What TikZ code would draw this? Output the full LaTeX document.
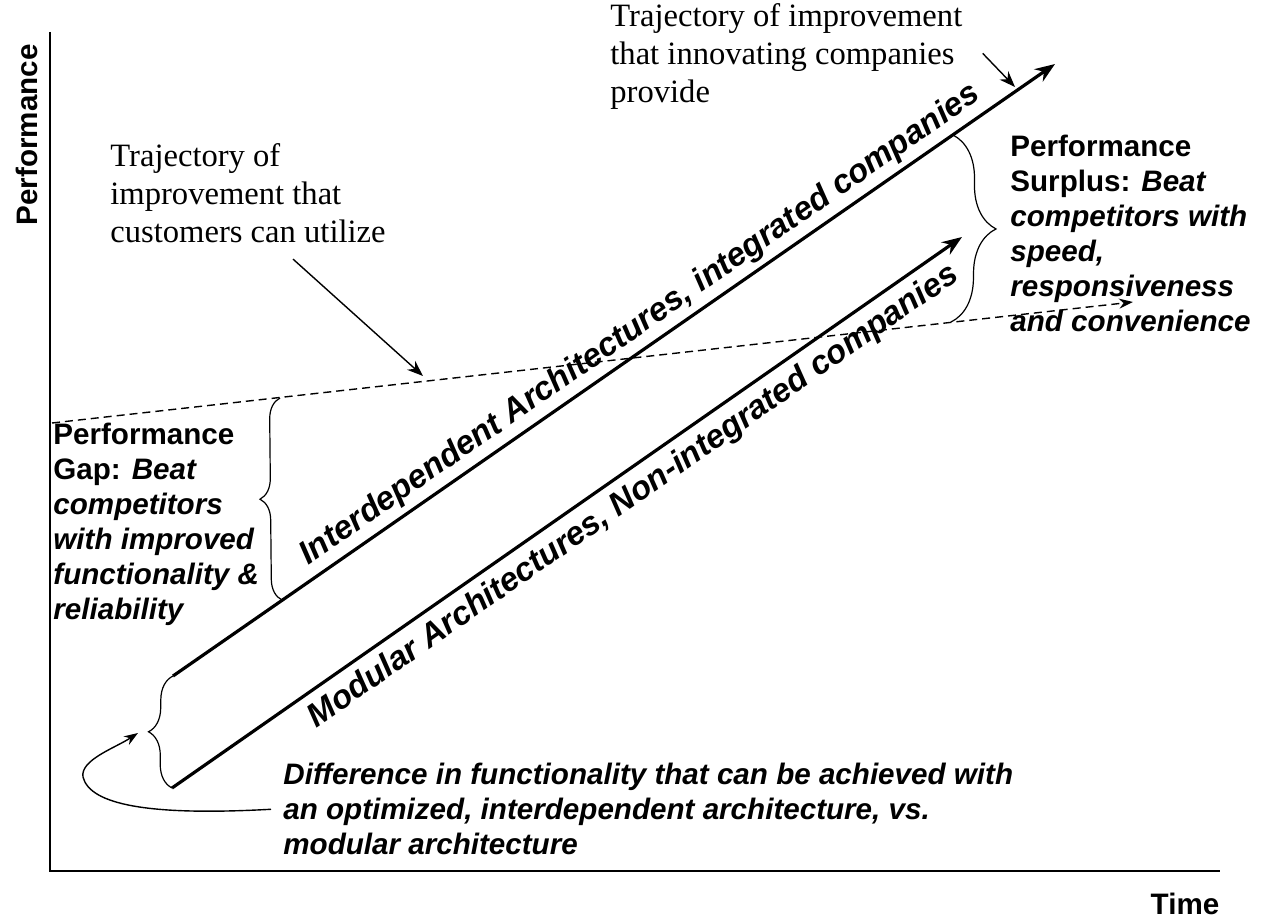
\documentclass[tikz,border=0pt]{standalone}
\usepackage{fontspec}
\setmainfont{Liberation Serif}
\newfontfamily\arialfont{Liberation Sans}
\usetikzlibrary{arrows.meta,decorations.pathreplacing}

\begin{document}
\begin{tikzpicture}[
  x=0.5pt, y=-0.5pt,
  axis/.style={line width=1pt},
  trend/.style={line width=1.6pt, -{Stealth[length=10pt,width=7.5pt]}},
  need/.style={line width=0.7pt, dash pattern=on 4pt off 2.5pt,
               -{Stealth[length=7pt,width=5pt]}},
  pointer/.style={line width=0.7pt, -{Stealth[length=8pt,width=6pt]}},
  gapbrace/.style={decorate, decoration={brace, amplitude=#1}, line width=0.6pt},
  serifnote/.style={font=\fontsize{16.3}{19}\selectfont, align=left,
                    inner sep=0pt, anchor=north west},
  sansnote/.style={font=\arialfont\bfseries\fontsize{14.8}{17.5}\selectfont,
                   align=left, inner sep=0pt, anchor=north west},
  diffnote/.style={sansnote,
                   font=\arialfont\bfseries\itshape\fontsize{14.8}{17.5}\selectfont},
  trendlabel/.style={font=\arialfont\bfseries\itshape\fontsize{16.5}{19}\selectfont,
                     sloped},
  axislabel/.style={font=\arialfont\bfseries\fontsize{14.8}{17.5}\selectfont}
]
\useasboundingbox (0,0) rectangle (1265,919);

% ---- Axes ----
\coordinate (ytop) at (50,32);
\coordinate (origin) at (50,871);
\coordinate (xend) at (1220,871);
\draw[axis] (ytop) -- (origin) -- (xend);
\node[axislabel, rotate=90] (perf) at (27,135) {Performance};
\node[axislabel] (time) at (1185,904) {Time};

% ---- Trajectories ----
\coordinate (ia0) at (173,676);
\coordinate (ia1) at (1055,64);
\coordinate (ma0) at (172,788);
\coordinate (ma1) at (962,237);
\coordinate (need0) at (52,423);
\coordinate (need1) at (1133,302);

\draw[trend] (ia0) -- node[trendlabel, above, inner sep=2.5pt, pos=0.544] (ialabel)
  {Interdependent Architectures, integrated companies} (ia1);
\draw[trend] (ma0) -- node[trendlabel, below, inner sep=4pt, pos=0.566] (malabel)
  {Modular Architectures, Non-integrated companies} (ma1);
\draw[need] (need0) -- (need1);

% ---- Braces ----
\coordinate (gaptop) at (280,398);
\coordinate (gapbot) at (282,600);
\coordinate (surtop) at (953,135);
\coordinate (surbot) at (951,322);
\coordinate (dtip) at (138,733);
\draw[gapbrace=12pt] (ma0) -- (ia0);
\draw[gapbrace=10.5pt] (gapbot) -- (gaptop);
\draw[gapbrace=22pt] (surtop) -- (surbot);

% ---- Notes ----
\node[serifnote] (inn) at (610,3) {Trajectory of improvement\\
  that innovating companies\\provide};
\node[serifnote] (cust) at (110,143) {Trajectory of\\
  improvement that\\customers can utilize};
\node[sansnote] (gap) at (53,423) {Performance\\
  Gap: \textit{Beat}\\
  \textit{competitors}\\
  \textit{with improved}\\
  \textit{functionality \&}\\
  \textit{reliability}};
\node[sansnote] (surplus) at (1010,135) {Performance\\
  Surplus: \textit{Beat}\\
  \textit{competitors with}\\
  \textit{speed,}\\
  \textit{responsiveness}\\
  \textit{and convenience}};
\node[diffnote] (diff) at (283,763) {Difference in functionality that can be achieved with\\
  an optimized, interdependent architecture, vs.\\
  modular architecture};

% ---- Pointers ----
\coordinate (custtip) at (423,376);
\coordinate (inntip) at (1015,87);
\draw[pointer] ([xshift=22.5pt,yshift=-8pt]cust.south) -- (custtip);
\draw[pointer] ([xshift=10pt,yshift=1.5pt]inn.east) -- (inntip);
\draw[pointer, -{Stealth[length=7pt,width=5pt]}] ([xshift=-6pt]diff.west)
  .. controls (150,816) and (90,805) .. (83,777)
  .. controls (80,760) and (115,748) .. (dtip);

\end{tikzpicture}
\end{document}
